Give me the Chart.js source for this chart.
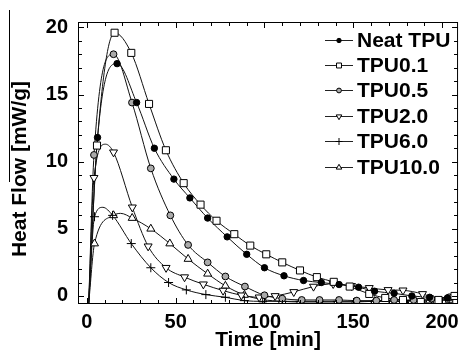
<!DOCTYPE html>
<html>
<head>
<meta charset="utf-8">
<script src="https://cdn.jsdelivr.net/npm/chart.js@4.4.0/dist/chart.umd.min.js"></script>
<style>
  html, body { margin: 0; padding: 0; background: #fff; }
</style>
</head>
<body>
<canvas id="chart" width="465" height="358"></canvas>
<script>
// Tick labels
const xTicks = [0, 50, 100, 150, 200];
const yTicks = [0, 5, 10, 15, 20];

// Marker points: time [min] / heat flow [mW/g]
const neatTime = [6, 17, 28, 38, 49, 58, 68, 79, 90, 100, 111, 122, 132, 142, 153, 162, 173, 183, 193, 203];
const neatFlow = [11.8, 17.3, 14.4, 11.0, 8.7, 7.3, 5.8, 4.4, 3.1, 2.1, 1.5, 1.15, 1.0, 0.85, 0.65, 0.35, 0.2, 0.0, -0.1, -0.15];

const tpu01Time = [5.7, 15.6, 25, 35, 44.5, 54.5, 64, 73, 83, 92, 101, 110, 120, 129.5, 139, 148, 159, 168, 178, 188, 198, 207];
const tpu01Flow = [11.2, 19.6, 18.1, 14.3, 10.85, 8.4, 6.8, 5.6, 4.6, 3.75, 3.1, 2.5, 1.9, 1.4, 1.05, 0.7, 0.15, -0.15, -0.3, -0.45, -0.3, 0.0];

const tpu05Time = [4, 15, 25.4, 36, 47, 57, 68, 78, 89, 100, 110, 121, 131, 142, 152, 163, 173, 184, 194, 204];
const tpu05Flow = [10.5, 18.0, 14.4, 9.5, 6.0, 3.8, 2.5, 1.45, 0.7, 0.05, -0.2, -0.3, -0.3, -0.3, -0.35, -0.35, -0.3, -0.3, -0.2, -0.1];

const tpu20Time = [4, 15, 25.6, 34.5, 44.6, 55, 65.6, 76.7, 87, 97, 106, 116.5, 127.6, 138.7, 149, 159, 169.6, 178, 189, 199];
const tpu20Flow = [8.8, 10.7, 6.6, 3.7, 2.1, 1.4, 0.87, 0.4, 0.05, -0.1, 0.0, 0.3, 0.7, 0.9, 0.75, 0.6, 0.45, 0.42, 0.15, -0.3];

const tpu60Time = [4.3, 14.5, 25, 36, 46, 56, 67, 78, 88.7, 99, 110, 120, 131, 141, 152, 162, 173, 183, 194, 204];
const tpu60Flow = [5.9, 6.0, 3.9, 2.1, 1.0, 0.45, 0.1, -0.1, -0.35, -0.4, -0.4, -0.4, -0.4, -0.4, -0.4, -0.4, -0.4, -0.35, -0.3, -0.3];

const tpu100Time = [4.3, 15, 25.5, 36, 46.7, 57, 68, 78, 88.7, 99, 110, 120, 131, 141, 151, 162, 172, 183, 193, 204];
const tpu100Flow = [3.9, 6.0, 5.8, 5.0, 3.9, 2.75, 1.65, 0.75, 0.07, -0.27, -0.4, -0.45, -0.45, -0.45, -0.45, -0.4, -0.4, -0.4, -0.35, -0.3];

// Curve points without a marker (onset and peaks between markers)
const neatExtraTime = [1];
const neatExtraFlow = [-0.6];
const tpu01ExtraTime = [1];
const tpu01ExtraFlow = [-0.6];
const tpu05ExtraTime = [1];
const tpu05ExtraFlow = [-0.6];
const tpu20ExtraTime = [1, 10.5];
const tpu20ExtraFlow = [-0.6, 11.3];
const tpu60ExtraTime = [1, 9];
const tpu60ExtraFlow = [-0.6, 6.6];
const tpu100ExtraTime = [1, 19];
const tpu100ExtraFlow = [-0.6, 6.15];

const FONT = "'Liberation Sans', Arial, sans-serif";

const series = [
  { label: 'Neat TPU', time: neatTime, flow: neatFlow, exT: neatExtraTime, exF: neatExtraFlow, style: 'circle', fill: '#000', r: 3.2, lr: 2.2, rot: 0 },
  { label: 'TPU0.1', time: tpu01Time, flow: tpu01Flow, exT: tpu01ExtraTime, exF: tpu01ExtraFlow, style: 'rect', fill: '#fff', r: 5, lr: 3.5, rot: 0 },
  { label: 'TPU0.5', time: tpu05Time, flow: tpu05Flow, exT: tpu05ExtraTime, exF: tpu05ExtraFlow, style: 'circle', fill: '#aaa', r: 3.4, lr: 2.4, rot: 0 },
  { label: 'TPU2.0', time: tpu20Time, flow: tpu20Flow, exT: tpu20ExtraTime, exF: tpu20ExtraFlow, style: 'triangle', fill: '#fff', r: 4.6, lr: 3.2, rot: 180 },
  { label: 'TPU6.0', time: tpu60Time, flow: tpu60Flow, exT: tpu60ExtraTime, exF: tpu60ExtraFlow, style: 'cross', fill: '#000', r: 4.5, lr: 3.5, rot: 0 },
  { label: 'TPU10.0', time: tpu100Time, flow: tpu100Flow, exT: tpu100ExtraTime, exF: tpu100ExtraFlow, style: 'triangle', fill: '#fff', r: 4.6, lr: 3.2, rot: 0 }
];

function toPoints(t, v) {
  return t.map((x, i) => ({ x: x, y: v[i] }));
}

const datasets = [];
series.forEach(s => {
  // markers on top
  datasets.push({
    label: s.label,
    data: toPoints(s.time, s.flow),
    showLine: false,
    order: 0,
    pointStyle: s.style,
    pointRadius: s.r,
    pointRotation: s.rot,
    pointBackgroundColor: s.fill,
    pointBorderColor: '#000',
    pointBorderWidth: 1,
    pointHoverRadius: s.r
  });
  // smooth curve
  datasets.push({
    label: s.label + ' curve',
    data: toPoints(s.time.concat(s.exT), s.flow.concat(s.exF)).sort((a, b) => a.x - b.x),
    showLine: true,
    order: 1,
    pointRadius: 0,
    borderColor: '#111',
    borderWidth: 1,
    cubicInterpolationMode: 'monotone',
    fill: false
  });
});

// Vẽ điểm đánh dấu cho chú giải
function drawMarker(ctx, style, x, y, r, fill, rot) {
  ctx.save();
  ctx.translate(x, y);
  ctx.rotate(rot * Math.PI / 180);
  ctx.beginPath();
  if (style === 'circle') {
    ctx.arc(0, 0, r, 0, Math.PI * 2);
  } else if (style === 'rect') {
    const h = r * Math.SQRT1_2;
    ctx.rect(-h, -h, 2 * h, 2 * h);
  } else if (style === 'triangle') {
    ctx.moveTo(0, -r);
    ctx.lineTo(r * 0.866, r * 0.5);
    ctx.lineTo(-r * 0.866, r * 0.5);
    ctx.closePath();
  } else if (style === 'cross') {
    ctx.moveTo(0, -r); ctx.lineTo(0, r);
    ctx.moveTo(-r, 0); ctx.lineTo(r, 0);
  }
  if (style !== 'cross') {
    ctx.fillStyle = fill;
    ctx.fill();
  }
  ctx.strokeStyle = '#000';
  ctx.lineWidth = 1;
  ctx.stroke();
  ctx.restore();
}

// Khung, vạch chia hướng vào trong, chú giải và nhãn trục tung
const decor = {
  id: 'decor',
  afterDatasetsDraw(chart) {
    const ctx = chart.ctx;
    const a = chart.chartArea;
    const x = chart.scales.x;
    const y = chart.scales.y;
    ctx.save();
    ctx.strokeStyle = '#000';
    ctx.lineWidth = 1;
    ctx.strokeRect(a.left + 0.5, a.top + 0.5, a.right - a.left - 1, a.bottom - a.top - 1);

    ctx.beginPath();
    for (let v = 0; v <= 200; v += 10) {
      const px = Math.round(x.getPixelForValue(v)) + 0.5;
      const len = v % 50 === 0 ? 6 : 4;
      ctx.moveTo(px, a.bottom); ctx.lineTo(px, a.bottom - len);
      ctx.moveTo(px, a.top); ctx.lineTo(px, a.top + len);
    }
    for (let v = 0; v <= 20; v += 1) {
      const py = Math.round(y.getPixelForValue(v)) + 0.5;
      const len = v % 5 === 0 ? 6 : 4;
      ctx.moveTo(a.left, py); ctx.lineTo(a.left + len, py);
      ctx.moveTo(a.right, py); ctx.lineTo(a.right - len, py);
    }
    ctx.stroke();

    // legend
    const lx0 = 325, lx1 = 353, ly0 = 39.5, step = 25.4;
    series.forEach((s, i) => {
      const ly = Math.round(ly0 + i * step) + 0.5;
      ctx.beginPath();
      ctx.strokeStyle = '#222';
      ctx.moveTo(lx0, ly); ctx.lineTo(lx1, ly);
      ctx.stroke();
      drawMarker(ctx, s.style, (lx0 + lx1) / 2, ly, s.lr, s.fill, s.rot);
      ctx.fillStyle = '#000';
      ctx.font = 'bold 21px ' + FONT;
      ctx.textAlign = 'left';
      ctx.textBaseline = 'middle';
      ctx.fillText(s.label, 357, ly + 1);
    });

    // y-axis title
    ctx.save();
    ctx.translate(20, 169);
    ctx.rotate(-Math.PI / 2);
    ctx.fillStyle = '#000';
    ctx.font = 'bold 21px ' + FONT;
    ctx.textAlign = 'center';
    ctx.textBaseline = 'middle';
    ctx.fillText('Heat Flow [mW/g]', 0, 0);
    ctx.restore();
    ctx.beginPath();
    ctx.strokeStyle = '#000';
    ctx.moveTo(9.5, 10);
    ctx.lineTo(9.5, 182);
    ctx.stroke();
    ctx.restore();
  }
};

const tickFont = { family: FONT, size: 20, weight: 'bold' };

const chart = new Chart(document.getElementById('chart').getContext('2d'), {
  type: 'scatter',
  data: { datasets: datasets },
  options: {
    responsive: false,
    animation: false,
    layout: { padding: { top: 16, right: 2, bottom: 1, left: 0 } },
    plugins: {
      legend: { display: false },
      tooltip: { enabled: false }
    },
    scales: {
      x: {
        type: 'linear',
        min: -5,
        max: 209,
        afterBuildTicks: s => { s.ticks = xTicks.map(v => ({ value: v })); },
        afterFit: s => { s.height = 53; },
        grid: { display: false, drawTicks: false },
        border: { display: false },
        ticks: { padding: 6, color: '#000', font: tickFont, maxRotation: 0 },
        title: {
          display: true,
          text: 'Time [min]',
          color: '#000',
          font: { family: FONT, size: 21, weight: 'bold' },
          padding: { top: 0, bottom: 4 }
        }
      },
      y: {
        type: 'linear',
        min: -0.6,
        max: 20.4,
        afterBuildTicks: s => { s.ticks = yTicks.map(v => ({ value: v })); },
        afterFit: s => { s.width = 78; },
        grid: { display: false, drawTicks: false },
        border: { display: false },
        ticks: { padding: 10, color: '#000', font: tickFont }
      }
    }
  },
  plugins: [decor]
});
</script>
</body>
</html>
